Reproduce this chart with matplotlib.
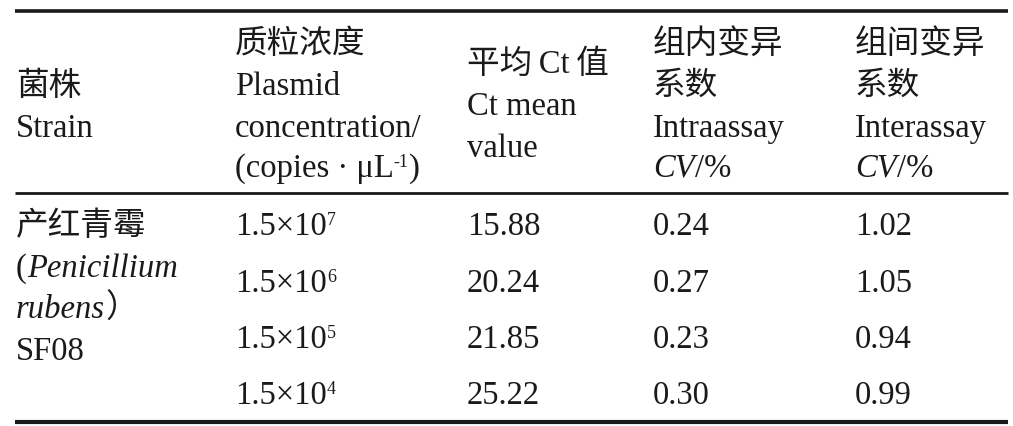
import matplotlib
matplotlib.use("Agg")
import matplotlib.pyplot as plt

# Table data
conc_exp = ["7", "6", "5", "4"]
ct_mean = ["15.88", "20.24", "21.85", "25.22"]
intra_cv = ["0.24", "0.27", "0.23", "0.30"]
inter_cv = ["1.02", "1.05", "0.94", "0.99"]

FAM = ["Liberation Serif", "Noto Sans CJK SC"]
FS = 23.5
SUP = 13

fig = plt.figure(figsize=(10.13, 4.27), dpi=100)
ax = fig.add_axes([0, 0, 1, 1])
ax.set_xlim(0, 1013)
ax.set_ylim(427, 0)
ax.axis("off")
fig.canvas.draw()
renderer = fig.canvas.get_renderer()


def runs(x, y, parts):
    # parts: (text, style, sup)
    for txt, style, sup in parts:
        t = ax.text(x, y - (10 if sup else 0), txt, family=FAM,
                    fontsize=SUP if sup else FS, style=style,
                    ha="left", va="baseline", color="#1a1a1a")
        bb = t.get_window_extent(renderer)
        x += bb.width


def line(x, y, txt):
    runs(x, y, [(txt, "normal", False)])


cols = [16, 235, 467, 653, 855]

# rules
ax.plot([15, 1008], [12, 12], color="#1a1a1a", lw=2.6, solid_capstyle="butt")
ax.plot([15, 1008], [194, 194], color="#1a1a1a", lw=2.0, solid_capstyle="butt")
ax.plot([15, 1008], [423, 423], color="#1a1a1a", lw=3.0, solid_capstyle="butt")

# header
line(cols[0], 95, "菌株")
line(cols[0], 137, "Strain")

line(cols[1], 53, "质粒浓度")
line(cols[1], 95, "Plasmid")
line(cols[1], 137, "concentration/")
runs(cols[1], 177, [("(copies · μL", "normal", False), ("-1", "normal", True),
                    (")", "normal", False)])

line(cols[2], 73, "平均\u2009Ct\u2009值")
line(cols[2], 115, "Ct mean")
line(cols[2], 157, "value")

line(cols[3], 53, "组内变异")
line(cols[3], 95, "系数")
line(cols[3], 137, "Intraassay")
runs(cols[3], 177, [("CV", "italic", False), ("/%", "normal", False)])

line(cols[4], 53, "组间变异")
line(cols[4], 95, "系数")
line(cols[4], 137, "Interassay")
runs(cols[4], 177, [("CV", "italic", False), ("/%", "normal", False)])

# strain cell
line(cols[0], 235, "产红青霉")
runs(cols[0], 277, [("(", "normal", False), ("Penicillium", "italic", False)])
runs(cols[0], 318, [("rubens", "italic", False), ("）", "normal", False)])
line(cols[0], 360, "SF08")

# body rows
row_y = [235, 292, 348, 404]
for i, y in enumerate(row_y):
    runs(cols[1], y, [("1.5×10", "normal", False), (conc_exp[i], "normal", True)])
    line(cols[2], y, ct_mean[i])
    line(cols[3], y, intra_cv[i])
    line(cols[4], y, inter_cv[i])

fig.savefig("out.png", dpi=100)
